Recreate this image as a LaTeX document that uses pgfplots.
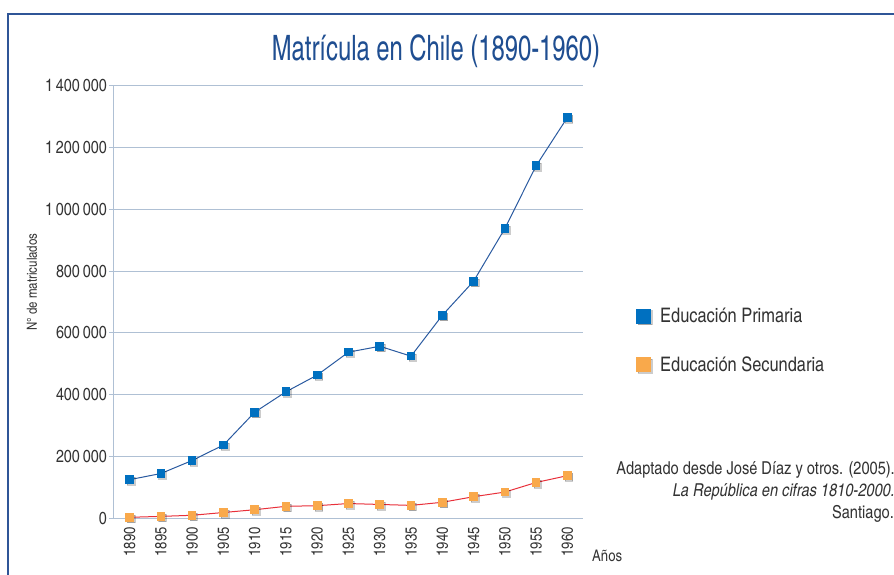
\documentclass[border=0pt]{standalone}
\usepackage{pgfplots}
\pgfplotsset{compat=1.18}
\usepackage{fontspec}
\setmainfont{texgyreheroscn}[Extension=.otf, UprightFont=*-regular, ItalicFont=*-italic, BoldFont=*-bold]
\newfontfamily\titlefont{texgyreheroscn}[Extension=.otf, UprightFont=*-regular, FakeStretch=0.83]

\definecolor{framec}{HTML}{2F5597}
\definecolor{titlec}{HTML}{1F4E91}
\definecolor{gridc}{HTML}{AFC0D4}
\definecolor{txt}{HTML}{333333}
\definecolor{prim}{HTML}{0070C0}
\definecolor{primline}{HTML}{2A5AA0}
\definecolor{sec}{HTML}{F9A94B}
\definecolor{secline}{HTML}{E8303A}

% matricula: years 1890..1960 at x = 0..14
\pgfplotstableread{
x primaria secundaria
0  126000   4500
1  146000   7500
2  188000  11000
3  238000  20000
4  344000  29000
5  410000  40000
6  464000  42000
7  538000  49000
8  557000  46000
9  525000  43000
10 657000  53000
11 767000  71000
12 937000 86000
13 1140000 117000
14 1296000 139000
}\datos

\begin{document}
\begin{tikzpicture}[x=1pt,y=1pt]
\useasboundingbox (0,0) rectangle (894,575);
\clip (0,0) rectangle (894,575);
\draw[framec, line width=2pt] (7.5,-5) -- (7.5,561) -- (900,561);
\node[anchor=base, text=titlec, inner sep=0pt, font=\titlefont\fontsize{35}{35}\selectfont] at (436,514) {Matrícula en Chile (1890-1960)};

\begin{axis}[
  at={(114pt,56.3pt)}, anchor=south west,
  scale only axis, width=469pt, height=433.4pt,
  xmin=-0.5, xmax=14.5, ymin=0, ymax=1400000,
  xtick={0,...,14},
  xticklabels={1890,1895,1900,1905,1910,1915,1920,1925,1930,1935,1940,1945,1950,1955,1960},
  ytick={0,200000,400000,600000,800000,1000000,1200000,1400000},
  yticklabels={0,200\,000,400\,000,600\,000,800\,000,1\,000\,000,1\,200\,000,1\,400\,000},
  scaled y ticks=false,
  axis lines*=left,
  axis line style={draw=gridc, line width=1pt, -},
  ymajorgrids, grid style={draw=gridc, line width=1pt},
  xtick style={draw=none},
  ytick style={draw=gridc, line width=1pt},
  tick align=outside, major tick length=5pt,
  x tick label style={rotate=90, anchor=east, text=txt, font=\fontsize{16}{16}\selectfont},
  y tick label style={text=txt, inner sep=2pt, font=\fontsize{17.5}{17.5}\selectfont},
  ylabel={N° de matriculados},
  ylabel style={at={(axis description cs:-0.175,0.546)}, anchor=center, text=txt, font=\fontsize{14}{14}\selectfont},
  clip=false,
  legend style={draw=none, fill=none, at={(axis description cs:1.113,0.411)}, anchor=west,
    font=\fontsize{20}{20}\selectfont, text=txt, row sep=28pt, inner sep=0pt,
    nodes={inner xsep=7.5pt}},
  legend cell align=left,
]
% marker shadows
\addplot[only marks, mark=square*, mark size=3.8pt, forget plot,
  mark options={draw=none, fill=black, opacity=0.2, xshift=1.5pt, yshift=-1.5pt}]
  table[x=x, y=primaria] {\datos};
\addplot[only marks, mark=square*, mark size=3.8pt, forget plot,
  mark options={draw=none, fill=black, opacity=0.2, xshift=1.5pt, yshift=-1.5pt}]
  table[x=x, y=secundaria] {\datos};

\addplot[primline, line width=1pt, mark=square*, mark size=3.8pt,
  mark options={draw=prim, fill=prim, line width=0pt},
  legend image code/.code={\fill[black, opacity=0.2] (1.5pt,-8.5pt) rectangle (15.5pt,5.5pt);
    \fill[prim] (0pt,-7pt) rectangle (14pt,7pt);}]
  table[x=x, y=primaria] {\datos};
\addlegendentry{Educación Primaria}
\addplot[secline, line width=1pt, mark=square*, mark size=3.8pt,
  mark options={draw=sec, fill=sec, line width=0pt},
  legend image code/.code={\fill[black, opacity=0.2] (1.5pt,-8.5pt) rectangle (15.5pt,5.5pt);
    \fill[sec] (0pt,-7pt) rectangle (14pt,7pt);}]
  table[x=x, y=secundaria] {\datos};
\addlegendentry{Educación Secundaria}
\end{axis}

\node[anchor=base west, inner sep=0pt, text=txt, font=\fontsize{16}{16}\selectfont] at (592,13) {Años};
\node[anchor=base east, inner sep=0pt, text=txt, font=\fontsize{17.8}{17.8}\selectfont] at (895,100) {Adaptado desde José Díaz y otros. (2005).};
\node[anchor=base east, inner sep=0pt, text=txt, font=\fontsize{17.8}{17.8}\itshape] at (895,78) {La República en cifras 1810-2000.};
\node[anchor=base east, inner sep=0pt, text=txt, font=\fontsize{17.8}{17.8}\selectfont] at (894,56) {Santiago.};
\end{tikzpicture}
\end{document}
